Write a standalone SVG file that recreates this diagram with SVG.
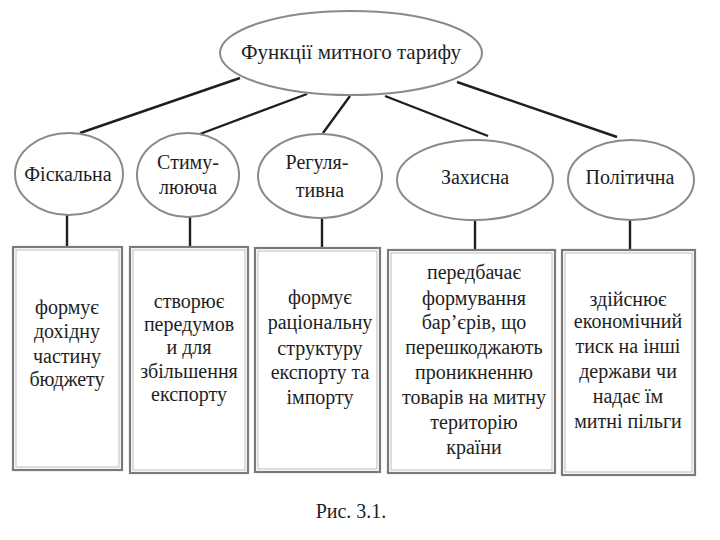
<svg xmlns="http://www.w3.org/2000/svg" width="720" height="540" viewBox="0 0 720 540">
<rect x="0" y="0" width="720" height="540" fill="#ffffff"/>
<g id="connectors" stroke="#1e1e1e" stroke-width="2.4" fill="none">
<line x1="240" y1="78" x2="80" y2="133"/>
<line x1="307" y1="94" x2="200" y2="134"/>
<line x1="350" y1="96" x2="323" y2="133"/>
<line x1="385" y1="96" x2="488" y2="136"/>
<line x1="457" y1="82" x2="617" y2="137"/>
<line x1="67" y1="215" x2="67" y2="247"/>
<line x1="190" y1="217" x2="190" y2="247"/>
<line x1="322" y1="217" x2="322" y2="248"/>
<line x1="475" y1="220" x2="475" y2="250"/>
<line x1="630" y1="220" x2="630" y2="250"/>
</g>
<g id="root">
<ellipse cx="351" cy="53" rx="131" ry="42" fill="#ffffff" stroke="#8a8a8a" stroke-width="2"/>
<text x="351" y="59" font-family="Liberation Serif" font-size="21" fill="#1e1e1e" text-anchor="middle">Функції митного тарифу</text>
</g>
<g id="fiscal">
<ellipse cx="69" cy="174" rx="54" ry="41" fill="#ffffff" stroke="#8a8a8a" stroke-width="2"/>
<text x="68" y="181" font-family="Liberation Serif" font-size="20" fill="#1e1e1e" text-anchor="middle">Фіскальна</text>
</g>
<g id="stimul">
<ellipse cx="188" cy="175" rx="51" ry="42" fill="#ffffff" stroke="#8a8a8a" stroke-width="2"/>
<text x="188" y="169" font-family="Liberation Serif" font-size="20" fill="#1e1e1e" text-anchor="middle">Стиму-</text>
<text x="188" y="194" font-family="Liberation Serif" font-size="20" fill="#1e1e1e" text-anchor="middle">лююча</text>
</g>
<g id="regul">
<ellipse cx="320" cy="176" rx="62" ry="42" fill="#ffffff" stroke="#8a8a8a" stroke-width="2"/>
<text x="317" y="169" font-family="Liberation Serif" font-size="20" fill="#1e1e1e" text-anchor="middle">Регуля-</text>
<text x="320" y="197" font-family="Liberation Serif" font-size="20" fill="#1e1e1e" text-anchor="middle">тивна</text>
</g>
<g id="zakhysna">
<ellipse cx="475" cy="180" rx="78" ry="40" fill="#ffffff" stroke="#8a8a8a" stroke-width="2"/>
<text x="475" y="184" font-family="Liberation Serif" font-size="20" fill="#1e1e1e" text-anchor="middle">Захисна</text>
</g>
<g id="politychna">
<ellipse cx="631" cy="180" rx="63" ry="40" fill="#ffffff" stroke="#8a8a8a" stroke-width="2"/>
<text x="630" y="184" font-family="Liberation Serif" font-size="20" fill="#1e1e1e" text-anchor="middle">Політична</text>
</g>
<g id="box1">
<rect x="13" y="247" width="109" height="223" fill="#ffffff" stroke="#7a7a7a" stroke-width="2.2"/>
<rect x="16" y="250" width="103" height="217" fill="none" stroke="#bdbdbd" stroke-width="1"/>
<text font-family="Liberation Serif" font-size="20" fill="#1e1e1e" text-anchor="middle"><tspan x="67" y="314">формує</tspan><tspan x="67" y="338">дохідну</tspan><tspan x="67" y="363">частину</tspan><tspan x="67" y="386">бюджету</tspan></text>
</g>
<g id="box2">
<rect x="130" y="247" width="118" height="226" fill="#ffffff" stroke="#7a7a7a" stroke-width="2.2"/>
<rect x="133" y="250" width="112" height="220" fill="none" stroke="#bdbdbd" stroke-width="1"/>
<text font-family="Liberation Serif" font-size="20" fill="#1e1e1e" text-anchor="middle"><tspan x="189" y="308">створює</tspan><tspan x="189" y="331">передумов</tspan><tspan x="189" y="354">и для</tspan><tspan x="189" y="378">збільшення</tspan><tspan x="189" y="401">експорту</tspan></text>
</g>
<g id="box3">
<rect x="255" y="248" width="125" height="224" fill="#ffffff" stroke="#7a7a7a" stroke-width="2.2"/>
<rect x="258" y="251" width="119" height="218" fill="none" stroke="#bdbdbd" stroke-width="1"/>
<text font-family="Liberation Serif" font-size="20" fill="#1e1e1e" text-anchor="middle"><tspan x="320" y="304">формує</tspan><tspan x="320" y="329">раціональну</tspan><tspan x="320" y="355">структуру</tspan><tspan x="320" y="379">експорту та</tspan><tspan x="320" y="404">імпорту</tspan></text>
</g>
<g id="box4">
<rect x="388" y="250" width="167" height="223" fill="#ffffff" stroke="#7a7a7a" stroke-width="2.2"/>
<rect x="391" y="253" width="161" height="217" fill="none" stroke="#bdbdbd" stroke-width="1"/>
<text font-family="Liberation Serif" font-size="20" fill="#1e1e1e" text-anchor="middle"><tspan x="474" y="279">передбачає</tspan><tspan x="474" y="305">формування</tspan><tspan x="474" y="329">бар’єрів, що</tspan><tspan x="474" y="354">перешкоджають</tspan><tspan x="474" y="379">проникненню</tspan><tspan x="474" y="404">товарів на митну</tspan><tspan x="474" y="429">територію</tspan><tspan x="474" y="454">країни</tspan></text>
</g>
<g id="box5">
<rect x="562" y="250" width="133" height="225" fill="#ffffff" stroke="#7a7a7a" stroke-width="2.2"/>
<rect x="565" y="253" width="127" height="219" fill="none" stroke="#bdbdbd" stroke-width="1"/>
<text font-family="Liberation Serif" font-size="20" fill="#1e1e1e" text-anchor="middle"><tspan x="628" y="306">здійснює</tspan><tspan x="628" y="328">економічний</tspan><tspan x="628" y="353">тиск на інші</tspan><tspan x="628" y="378">держави чи</tspan><tspan x="628" y="403">надає їм</tspan><tspan x="628" y="428">митні пільги</tspan></text>
</g>
<text x="351" y="518" font-family="Liberation Serif" font-size="20" fill="#1e1e1e" text-anchor="middle">Рис. 3.1.</text>
</svg>
